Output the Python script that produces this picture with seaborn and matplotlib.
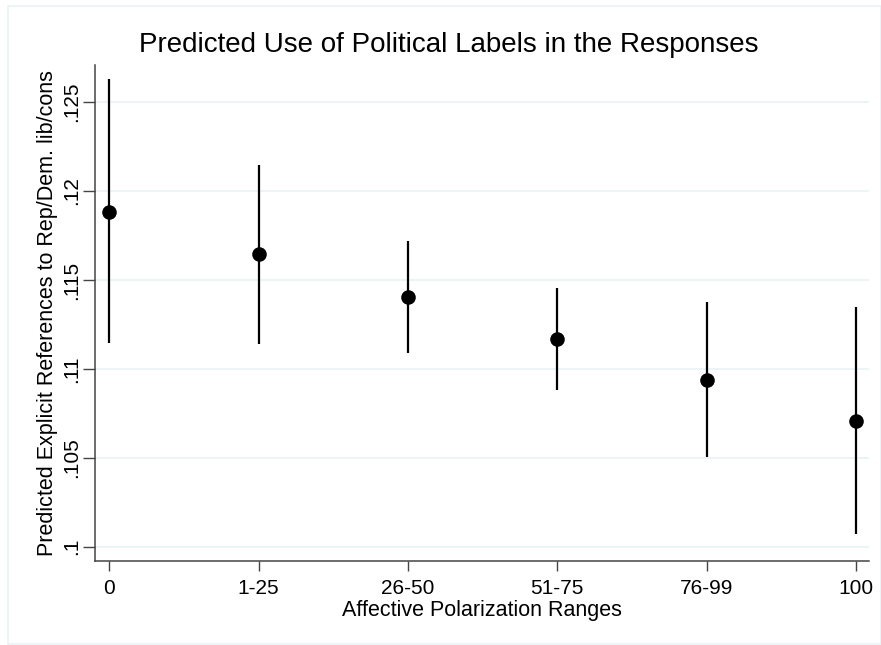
import matplotlib
matplotlib.use("Agg")
import matplotlib.pyplot as plt
import seaborn as sns
import numpy as np
import pandas as pd
from matplotlib.patches import Rectangle

# Predicted values with 95% confidence bounds per polarization range
categories = ["0", "1-25", "26-50", "51-75", "76-99", "100"]
predicted = [0.11884, 0.11646, 0.11404, 0.11168, 0.10938, 0.10709]
ci_lower = [0.11146, 0.11140, 0.11089, 0.10881, 0.10503, 0.10070]
ci_upper = [0.12630, 0.12147, 0.11719, 0.11455, 0.11375, 0.11346]
y_ticks = [0.1, 0.105, 0.11, 0.115, 0.12, 0.125]
y_tick_labels = [".1", ".105", ".11", ".115", ".12", ".125"]

df = pd.DataFrame({
    "pos": np.arange(len(categories)),
    "range": categories,
    "predicted": predicted,
    "lo": ci_lower,
    "hi": ci_upper,
})

sns.set_theme(style="white")
plt.rcParams["font.family"] = ["Liberation Sans", "DejaVu Sans"]

fig = plt.figure(figsize=(8.81, 6.45), dpi=100)
fig.patch.set_facecolor("white")
ax = fig.add_axes([95 / 881, 1 - 560.7 / 645, 774 / 881, (560.7 - 65) / 645])

# faint outer frame around the graph region
fig.patches.append(Rectangle((8 / 881, 1 - 644 / 645), 873 / 881, (644 - 6) / 645,
                             transform=fig.transFigure, fill=False,
                             edgecolor="#EAF2F3", linewidth=1.2))

ax.set_xlim(-0.096, 5.087)
ax.set_ylim(0.09921, 0.12709)

for yv in y_ticks:
    ax.axhline(yv, color="#EAF2F3", linewidth=1.2, zorder=0)

ax.vlines(df["pos"], df["lo"], df["hi"], color="black", linewidth=1.6, zorder=2)
sns.scatterplot(data=df, x="pos", y="predicted", ax=ax, color="black",
                s=110, edgecolor="black", linewidth=0, zorder=3, legend=False)

ax.set_xticks(df["pos"])
ax.set_xticklabels(categories, fontsize=15)
ax.set_yticks(y_ticks)
ax.set_yticklabels(y_tick_labels, fontsize=15, rotation=90, va="center")

ax.tick_params(axis="x", direction="out", length=7, width=1, color="#444444",
               bottom=True, pad=6.5, labelcolor="black")
ax.tick_params(axis="y", direction="out", length=9, width=1, color="#444444",
               left=True, pad=1, labelcolor="black")

for side in ["top", "right"]:
    ax.spines[side].set_visible(False)
for side in ["left", "bottom"]:
    ax.spines[side].set_color("#444444")
    ax.spines[side].set_linewidth(1.1)

ax.set_xlabel("Affective Polarization Ranges", fontsize=15.5, labelpad=1, color="black")
ax.set_ylabel("Predicted Explicit References to Rep/Dem. lib/cons", fontsize=15.5,
              labelpad=3, color="black")

fig.text(449 / 881, 1 - 45 / 645, "Predicted Use of Political Labels in the Responses",
         ha="center", va="center", fontsize=20, color="black")

fig.savefig("out.png", dpi=100, facecolor="white")
